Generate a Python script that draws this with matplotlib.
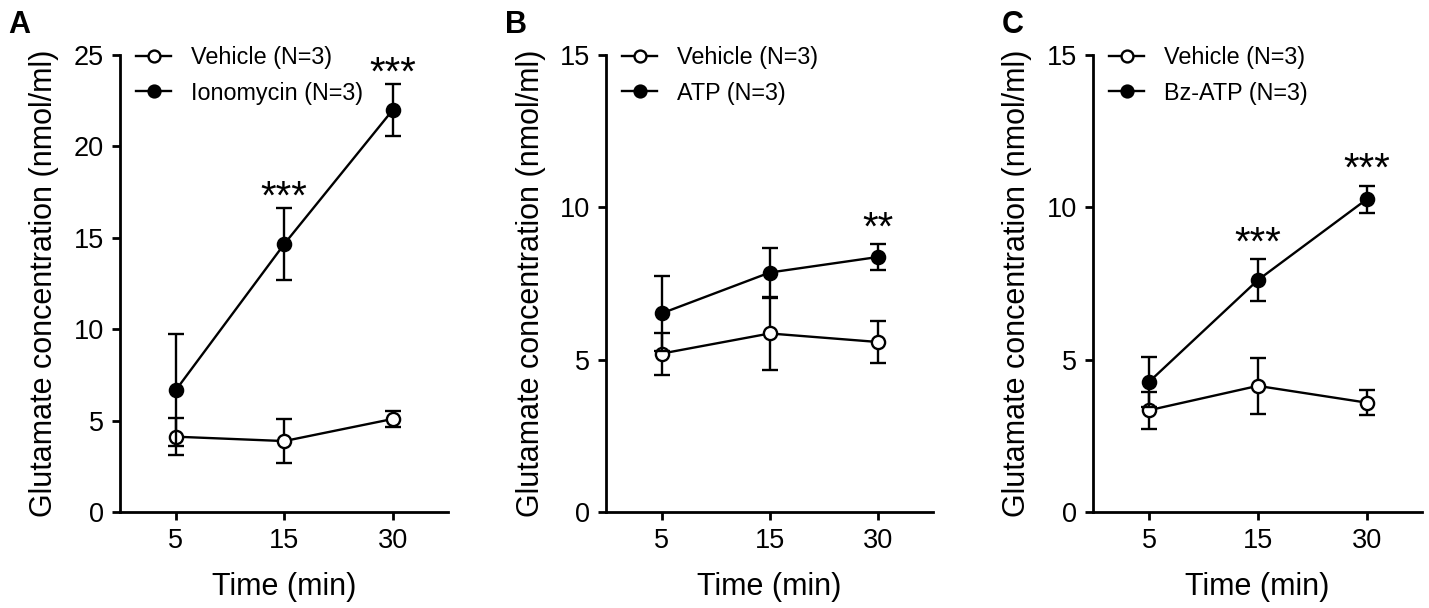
import matplotlib
matplotlib.use("Agg")
import matplotlib.pyplot as plt
from matplotlib.lines import Line2D
import numpy as np

plt.rcParams['font.family'] = ['Liberation Sans', 'DejaVu Sans']

time_labels = ['5', '15', '30']

# Panel A
a_vehicle = [4.12, 3.88, 5.09]
a_vehicle_err = [1.02, 1.2, 0.45]
a_treat = [6.67, 14.66, 21.99]
a_treat_err = [3.05, 1.96, 1.44]
a_treat_name = 'Ionomycin (N=3)'
a_stars = ['', '***', '***']

# Panel B
b_vehicle = [5.2, 5.86, 5.58]
b_vehicle_err = [0.69, 1.2, 0.7]
b_treat = [6.52, 7.86, 8.37]
b_treat_err = [1.24, 0.82, 0.42]
b_treat_name = 'ATP (N=3)'
b_stars = ['', '', '**']

# Panel C
c_vehicle = [3.34, 4.14, 3.59]
c_vehicle_err = [0.6, 0.93, 0.4]
c_treat = [4.27, 7.61, 10.26]
c_treat_err = [0.82, 0.68, 0.45]
c_treat_name = 'Bz-ATP (N=3)'
c_stars = ['', '***', '***']

panels = [
    ('A', a_vehicle, a_vehicle_err, a_treat, a_treat_err, a_treat_name, a_stars, 25, [0, 5, 10, 15, 20, 25]),
    ('B', b_vehicle, b_vehicle_err, b_treat, b_treat_err, b_treat_name, b_stars, 15, [0, 5, 10, 15]),
    ('C', c_vehicle, c_vehicle_err, c_treat, c_treat_err, c_treat_name, c_stars, 15, [0, 5, 10, 15]),
]

W, H = 1429, 608
fig = plt.figure(figsize=(W / 100, H / 100), dpi=100)

lefts = [120, 606, 1093]
rights = [448, 933, 1422]
letter_x = [8, 505, 1002]
star_offsets = [-0.6, 3.3, 3.3]
ax_bottom, ax_top = 512, 55

lw = 1.7
ms = 9.5
x = np.arange(len(time_labels))

for i, (letter, veh, veh_err, tr, tr_err, tr_name, stars, ymax, yticks) in enumerate(panels):
    ax = fig.add_axes([lefts[i] / W, 1 - ax_bottom / H, (rights[i] - lefts[i]) / W, (ax_bottom - ax_top) / H])
    ax.errorbar(x, veh, yerr=veh_err, color='black', lw=lw, elinewidth=lw, capsize=5.5, capthick=lw,
                marker='o', ms=ms, mfc='white', mec='black', mew=1.7, zorder=3, clip_on=False)
    ax.errorbar(x, tr, yerr=tr_err, color='black', lw=lw, elinewidth=lw, capsize=5.5, capthick=lw,
                marker='o', ms=ms, mfc='black', mec='black', mew=1.7, zorder=4, clip_on=False)
    for xi, yi, ei, s in zip(x, tr, tr_err, stars):
        if s:
            ax.annotate(s, xy=(xi, yi + ei), xytext=(0, star_offsets[i]), textcoords='offset points',
                        ha='center', va='baseline', fontsize=29, annotation_clip=False)
    ax.set_xlim(-0.515, 2.51)
    ax.set_ylim(0, ymax)
    ax.set_yticks(yticks)
    ax.set_xticks(x)
    ax.set_xticklabels(time_labels)
    for sp in ['top', 'right']:
        ax.spines[sp].set_visible(False)
    for sp in ['left', 'bottom']:
        ax.spines[sp].set_linewidth(2.0)
    ax.tick_params(axis='both', width=2.0, length=5.5, labelsize=19.5, pad=6)
    ax.set_xlabel('Time (min)', fontsize=22, labelpad=13)
    ax.set_ylabel('Glutamate concentration (nmol/ml)', fontsize=22)
    ax.yaxis.set_label_coords(-0.185, 0.5)
    handles = [
        Line2D([], [], color='black', lw=lw, marker='o', ms=ms * 0.9, mfc='white', mec='black', mew=1.7),
        Line2D([], [], color='black', lw=lw, marker='o', ms=ms * 0.9, mfc='black', mec='black', mew=1.7),
    ]
    ax.legend(handles, ['Vehicle (N=3)', tr_name], loc='upper left', bbox_to_anchor=(0.0, 1.056),
              frameon=False, fontsize=16.8, handlelength=1.5, handletextpad=0.85,
              labelspacing=0.55, borderaxespad=0.3)
    fig.text(letter_x[i] / W, 1 - 33 / H, letter, fontsize=22, fontweight='bold', ha='left', va='baseline')

fig.savefig('out.png', dpi=100)
